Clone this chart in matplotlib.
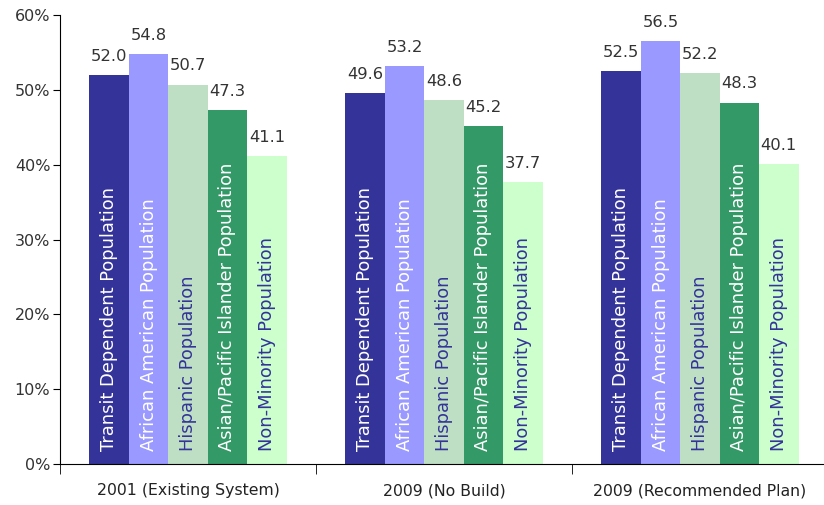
import numpy as np
import matplotlib
matplotlib.use("Agg")
from matplotlib import pyplot as plt

scenarios = ["2001 (Existing System)", "2009 (No Build)", "2009 (Recommended Plan)"]
populations = ["Transit Dependent Population", "African American Population",
               "Hispanic Population", "Asian/Pacific Islander Population",
               "Non-Minority Population"]
transit_dep = [52.0, 49.6, 52.5]
african_am = [54.8, 53.2, 56.5]
hispanic = [50.7, 48.6, 52.2]
asian_pi = [47.3, 45.2, 48.3]
non_minority = [41.1, 37.7, 40.1]

series = [transit_dep, african_am, hispanic, asian_pi, non_minority]
colors = ["#333399", "#9999FF", "#BEDFC4", "#339966", "#CCFFCC"]
text_colors = ["white", "white", "#333399", "white", "#333399"]

plt.rcParams['font.family'] = ['DejaVu Sans']

fig = plt.figure(figsize=(8.24, 5.05), dpi=100)
ax = fig.add_axes([60 / 824, 1 - 464 / 505, 768 / 824, 449 / 505])

x = np.arange(len(scenarios))
w = 0.154
for i, vals in enumerate(series):
    pos = x + (i - 2) * w
    ax.bar(pos, vals, width=w, color=colors[i], linewidth=0)
    for p, v in zip(pos, vals):
        ax.text(p, v + 1.5, "%.1f" % v, ha="center", va="bottom",
                fontsize=11.8, color="#333333")
        ax.text(p, 1.8, populations[i], rotation=90, ha="center", va="bottom",
                fontsize=12.9, color=text_colors[i])

ax.set_xlim(-0.5, 2.5)
ax.set_ylim(0, 60)
ax.set_yticks(np.arange(0, 61, 10))
ax.set_yticklabels(["%d%%" % t for t in range(0, 61, 10)], fontsize=11.5, color="#333333")
ax.set_xticks(x)
ax.set_xticklabels(scenarios, fontsize=11.3, color="#222222")
ax.tick_params(axis="x", length=0, pad=14)
ax.set_xticks([-0.5, 0.5, 1.5, 2.5], minor=True)
ax.tick_params(axis="x", which="minor", length=7, direction="out")
ax.tick_params(axis="y", length=5, direction="out", pad=2)
ax.spines["top"].set_visible(False)
ax.spines["right"].set_visible(False)

fig.savefig("out.png", dpi=100)
